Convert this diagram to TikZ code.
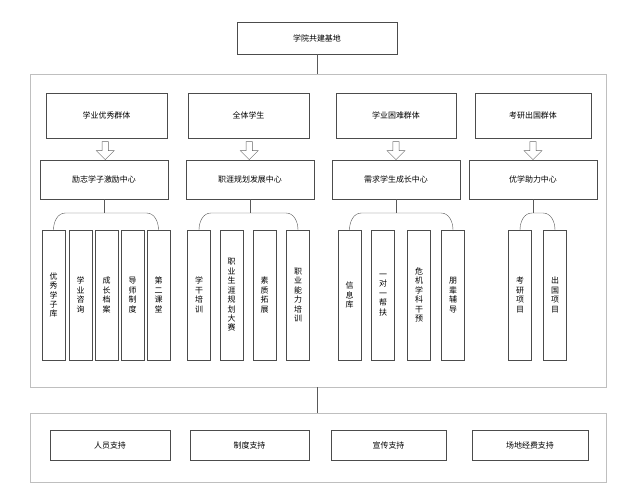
\documentclass[tikz,border=0pt]{standalone}
\usepackage{fontspec}
\setmainfont{Noto Sans CJK SC}
\usetikzlibrary{shapes.arrows,calc}

\begin{document}
\begin{tikzpicture}[x=0.03528cm,y=-0.03528cm]
    \tikzstyle{panel}=[draw=black!25,line width=0.6pt]
    \tikzstyle{box}=[draw=black!70,thin,fill=white,font=\footnotesize,inner sep=0pt]
    \tikzstyle{leaf}=[box,font=\footnotesize,align=center,text width=10pt,inner sep=0pt]
    \tikzstyle{link}=[draw=black!65,thin]
    \tikzstyle{hollow}=[single arrow,draw=black!60,fill=white,rotate=-90,minimum height=18pt,
        minimum width=18pt,single arrow head extend=4pt,inner sep=2pt]

    \useasboundingbox (0,0) rectangle (638,498);

    % frames
    \draw[panel] (30,74) rectangle (606,387);
    \draw[panel] (30,413) rectangle (606,482);

    % top
    \node[box,minimum width=160pt,minimum height=32pt] (base) at (317,38) {学院共建基地};
    \draw[link] (base.south) -- (317,74);
    \draw[link] (317,387) -- (317,413);

    % groups
    \node[box,minimum width=121pt,minimum height=45pt] (g1) at (106.5,115.5) {学业优秀群体};
    \node[box,minimum width=121pt,minimum height=45pt] (g2) at (248.5,115.5) {全体学生};
    \node[box,minimum width=120pt,minimum height=45pt] (g3) at (396,115.5) {学业困难群体};
    \node[box,minimum width=116pt,minimum height=45pt] (g4) at (533,115.5) {考研出国群体};

    % centres
    \node[box,minimum width=128pt,minimum height=39pt] (c1) at (104,179.5) {励志学子激励中心};
    \node[box,minimum width=128pt,minimum height=39pt] (c2) at (250,179.5) {职涯规划发展中心};
    \node[box,minimum width=128pt,minimum height=39pt] (c3) at (396,179.5) {需求学生成长中心};
    \node[box,minimum width=128pt,minimum height=39pt] (c4) at (533,179.5) {优学助力中心};

    \foreach \i in {1,2,3,4}
        \node[hollow] (a\i) at ($(g\i.south)!0.5!(c\i.north)$) {};

    % leaves
    \foreach \name/\x/\t in {l11/53.5/优\\秀\\学\\子\\库, l12/80.5/学\\业\\咨\\询,
            l13/106.5/成\\长\\档\\案, l14/132.5/导\\师\\制\\度, l15/158.5/第\\二\\课\\堂,
            l21/199/学\\干\\培\\训, l22/231.5/职\\业\\生\\涯\\规\\划\\大\\赛,
            l23/264.5/素\\质\\拓\\展, l24/298/职\\业\\能\\力\\培\\训,
            l31/349.5/信\\息\\库, l32/383/一\\对\\一\\帮\\扶,
            l33/419/危\\机\\学\\科\\干\\预, l34/453/朋\\辈\\辅\\导,
            l41/520/考\\研\\项\\目, l42/555/出\\国\\项\\目}
        \node[leaf,minimum height=130pt,minimum width=23pt] (\name) at (\x,295) {\t};

    % brackets
    \foreach \c/\l/\r in {c1/l11/l15, c2/l21/l24, c3/l31/l34, c4/l41/l42} {
        \draw[link] (\c.south) -- (\c.south |- 0,213);
        \draw[link] (\l.north) to[out=90,in=180] ([xshift=12pt]\l.north |- 0,213)
            -- ([xshift=-12pt]\r.north |- 0,213) to[out=0,in=90] (\r.north);
    }

    % support
    \node[box,minimum width=120pt,minimum height=30pt] (s1) at (110,445) {人员支持};
    \node[box,minimum width=119pt,minimum height=30pt] (s2) at (249.5,445) {制度支持};
    \node[box,minimum width=115pt,minimum height=30pt] (s3) at (388.5,445) {宣传支持};
    \node[box,minimum width=116pt,minimum height=30pt] (s4) at (530,445) {场地经费支持};
\end{tikzpicture}
\end{document}
